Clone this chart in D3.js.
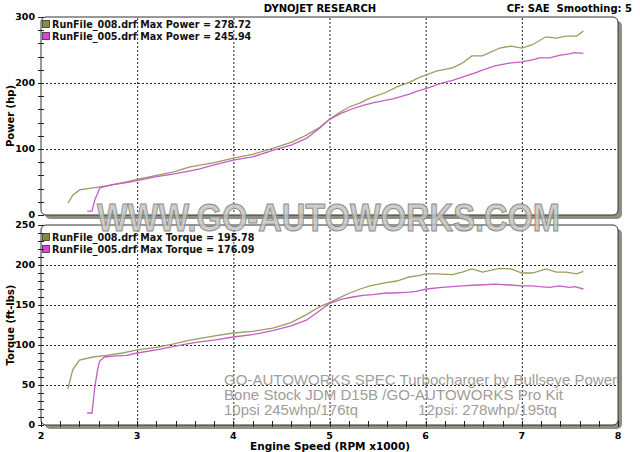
<!DOCTYPE html>
<html>
<head>
<meta charset="utf-8">
<script src="https://cdn.jsdelivr.net/npm/d3@7"></script>
<style>
  body { margin: 0; background: #fff; }
  svg { display: block; }
</style>
</head>
<body>
<svg width="640" height="452"></svg>
<script>
// run 008 (12 psi) - olive
let rpm008 = [2.28, 2.33, 2.40, 2.54, 2.68, 2.85, 3.0, 3.2, 3.37, 3.55, 3.79, 4.0, 4.2, 4.41, 4.6, 4.76, 4.9, 5.0, 5.1, 5.21, 5.32, 5.42, 5.59, 5.7, 5.83, 5.94, 6.0, 6.11, 6.28, 6.38, 6.48, 6.59, 6.77, 6.89, 7.0, 7.11, 7.25, 7.36, 7.46, 7.57, 7.64];
let hp008 = [18, 30, 38, 41, 44, 49, 54, 60, 65, 73, 79, 86, 92, 101, 110, 121, 133, 145, 155, 164, 170, 177, 186, 194, 201, 209, 212, 218, 223, 230, 241, 241, 253, 256, 253, 258, 270, 268, 271, 271, 278.7];
let tq008 = [45, 69, 81, 85, 87, 90, 94, 97, 101, 106, 111, 115, 117, 121, 128, 138, 148, 153, 159, 165, 170, 174, 178, 180, 185, 187, 189, 189, 188, 191, 195, 191, 195.8, 195, 190, 190, 195, 191, 191, 189, 192];

// run 005 (10 psi) - magenta
let rpm005 = [2.48, 2.53, 2.56, 2.59, 2.61, 2.66, 2.75, 2.89, 3.0, 3.2, 3.37, 3.55, 3.65, 3.8, 4.0, 4.2, 4.41, 4.6, 4.76, 4.9, 5.0, 5.12, 5.24, 5.35, 5.45, 5.59, 5.66, 5.83, 5.9, 6.01, 6.17, 6.28, 6.38, 6.53, 6.56, 6.72, 6.87, 7.0, 7.11, 7.18, 7.29, 7.39, 7.49, 7.55, 7.64];
let hp005 = [6, 6, 23, 33, 41, 43, 46, 49, 52, 58, 62, 67, 70, 76, 83, 88, 98, 106, 116, 132, 145, 154, 161, 166, 170, 174, 176, 183, 187, 192, 200, 204, 209, 216, 218, 226, 230, 232, 235, 238, 238, 242, 244, 245.9, 245];
let tq005 = [15, 15, 48, 70, 80, 85, 86, 87, 90, 94, 98, 102, 104, 106, 110, 113, 118, 124, 131, 143, 152, 157, 160, 162, 163, 165, 165, 166, 167, 170, 172, 173, 174, 175, 175, 176.1, 175, 174, 174, 173, 172, 174, 172, 173, 170];

let legendPower = ["RunFile_008.drf Max Power = 278.72", "RunFile_005.drf Max Power = 245.94"];
let legendTorque = ["RunFile_008.drf Max Torque = 195.78", "RunFile_005.drf Max Torque = 176.09"];
let notes = ["GO-AUTOWORKS SPEC Turbocharger by Bullseye Power", "Bone Stock JDM D15B /GO-AUTOWORKS Pro Kit", "10psi 245whp/176tq", "12psi: 278whp/195tq"];

let colors = ["#9c9c62", "#c45ec4"];
let swatch = ["#8a8a3c", "#e040e0"];

let svg = d3.select("svg");
let font = "'DejaVu Sans', Verdana, sans-serif";

let x = d3.scaleLinear().domain([2, 8]).range([41, 618]);
let yHp = d3.scaleLinear().domain([0, 300]).range([215, 17]);
let yTq = d3.scaleLinear().domain([0, 250]).range([425, 225]);

// header
svg.append("text").attr("x", 320).attr("y", 12).attr("text-anchor", "middle")
  .attr("font-family", font).attr("font-weight", "bold").attr("font-size", 10)
  .text("DYNOJET RESEARCH");
svg.append("text").attr("x", 632).attr("y", 12).attr("text-anchor", "end")
  .attr("font-family", font).attr("font-weight", "bold").attr("font-size", 10)
  .attr("xml:space", "preserve")
  .text("CF: SAE  Smoothing: 5");

function panel(y, yTicksMajor, yTicksMinor, label, legend, legendOffset, runs) {
  let x0 = x.range()[0], x1 = x.range()[1];
  let top = y.range()[1], bot = y.range()[0];
  let g = svg.append("g");

  // shadow + frame
  g.append("rect").attr("x", x0 + 4).attr("y", top + 4)
    .attr("width", x1 - x0).attr("height", bot - top)
    .attr("rx", 5).attr("fill", "#8e8e84");
  g.append("rect").attr("x", x0).attr("y", top)
    .attr("width", x1 - x0).attr("height", bot - top)
    .attr("rx", 5).attr("fill", "#fff").attr("stroke", "#333").attr("stroke-width", 1);

  // legend
  legend.forEach(function (t, i) {
    g.append("rect").attr("x", x0 + 1.5).attr("y", top + legendOffset - 7.5 + i * 12)
      .attr("width", 7).attr("height", 7)
      .attr("fill", swatch[i]).attr("stroke", "#333").attr("stroke-width", 0.8);
    g.append("text").attr("x", x0 + 11).attr("y", top + legendOffset + i * 12)
      .attr("font-family", font).attr("font-weight", "bold").attr("font-size", 9.6)
      .attr("fill", "#111").text(t);
  });

  // grid
  g.selectAll("line.vgrid").data(x.ticks(6).filter(function (d) { return d > 2 && d < 8; }))
    .enter().append("line").attr("class", "vgrid")
    .attr("x1", function (d) { return x(d) + 0.5; }).attr("x2", function (d) { return x(d) + 0.5; })
    .attr("y1", top + 1).attr("y2", bot - 1)
    .attr("stroke", "#222").attr("stroke-dasharray", "2,2");
  g.selectAll("line.hgrid").data(yTicksMajor.slice(1, -1))
    .enter().append("line").attr("class", "hgrid")
    .attr("x1", x0 + 1).attr("x2", x1 - 1)
    .attr("y1", function (d) { return Math.round(y(d)) + 0.5; })
    .attr("y2", function (d) { return Math.round(y(d)) + 0.5; })
    .attr("stroke", "#222").attr("stroke-dasharray", "2,2");

  // y ticks
  g.selectAll("line.ytick").data(yTicksMinor)
    .enter().append("line").attr("class", "ytick")
    .attr("x1", x0 - 3).attr("x2", x0 + 3)
    .attr("y1", function (d) { return Math.round(y(d)) + 0.5; })
    .attr("y2", function (d) { return Math.round(y(d)) + 0.5; })
    .attr("stroke", "#222");
  g.selectAll("text.ylab").data(yTicksMajor)
    .enter().append("text").attr("class", "ylab")
    .attr("x", x0 - 6).attr("y", function (d) { return y(d) + 3; })
    .attr("text-anchor", "end").attr("font-family", font)
    .attr("font-weight", "bold").attr("font-size", 9.5)
    .text(function (d) { return d; });

  g.append("text")
    .attr("transform", "translate(14," + ((top + bot) / 2) + ") rotate(-90)")
    .attr("text-anchor", "middle").attr("font-family", font)
    .attr("font-weight", "bold").attr("font-size", 10)
    .text(label);

  // curves
  let line = d3.line()
    .x(function (d) { return x(d[0]); })
    .y(function (d) { return y(d[1]); });
  runs.forEach(function (r, i) {
    g.append("path").datum(d3.zip(r[0], r[1]))
      .attr("d", line).attr("fill", "none")
      .attr("stroke", colors[i]).attr("stroke-width", 1.3);
  });
  return g;
}

panel(yHp, yHp.ticks(3), yHp.ticks(15), "Power (hp)", legendPower, 11,
  [[rpm008, hp008], [rpm005, hp005]]);
let bottom = panel(yTq, yTq.ticks(5), yTq.ticks(25), "Torque (ft-lbs)", legendTorque, 16,
  [[rpm008, tq008], [rpm005, tq005]]);

// x axis (bottom panel)
bottom.selectAll("line.xtick").data(x.ticks(30))
  .enter().append("line").attr("class", "xtick")
  .attr("x1", function (d) { return Math.round(x(d)) + 0.5; })
  .attr("x2", function (d) { return Math.round(x(d)) + 0.5; })
  .attr("y1", yTq.range()[0] - 4).attr("y2", yTq.range()[0] + 2)
  .attr("stroke", "#222");
bottom.selectAll("text.xlab").data(x.ticks(6))
  .enter().append("text").attr("class", "xlab")
  .attr("x", function (d) { return x(d); }).attr("y", 439)
  .attr("text-anchor", "middle").attr("font-family", font)
  .attr("font-weight", "bold").attr("font-size", 9.5)
  .text(function (d) { return d; });
svg.append("text").attr("x", 330).attr("y", 450).attr("text-anchor", "middle")
  .attr("font-family", font).attr("font-weight", "bold").attr("font-size", 10.5)
  .text("Engine Speed (RPM x1000)");

// notes
let noteX = [224, 224, 224, 418];
let noteY = [385, 400, 415, 415];
let noteW = [393, 339, 134, 139];
let noteG = svg.append("g").attr("font-family", "'Liberation Sans', Arial, sans-serif")
  .attr("font-size", 15.5).attr("fill", "#a29c98");
noteG.selectAll("text").data(notes).enter().append("text")
  .attr("x", function (d, i) { return noteX[i]; })
  .attr("y", function (d, i) { return noteY[i]; })
  .attr("textLength", function (d, i) { return noteW[i]; })
  .attr("lengthAdjust", "spacingAndGlyphs")
  .text(function (d) { return d; });

// watermark
svg.append("text").attr("x", 97).attr("y", 231)
  .attr("font-family", "'Liberation Sans', Arial, sans-serif")
  .attr("font-weight", "bold").attr("font-size", 38)
  .attr("textLength", 463).attr("lengthAdjust", "spacingAndGlyphs")
  .attr("fill", "#c4c4c0").attr("fill-opacity", 0.85)
  .attr("stroke", "#8a8a86").attr("stroke-width", 1)
  .text("WWW.GO-AUTOWORKS.COM");
</script>
</body>
</html>
